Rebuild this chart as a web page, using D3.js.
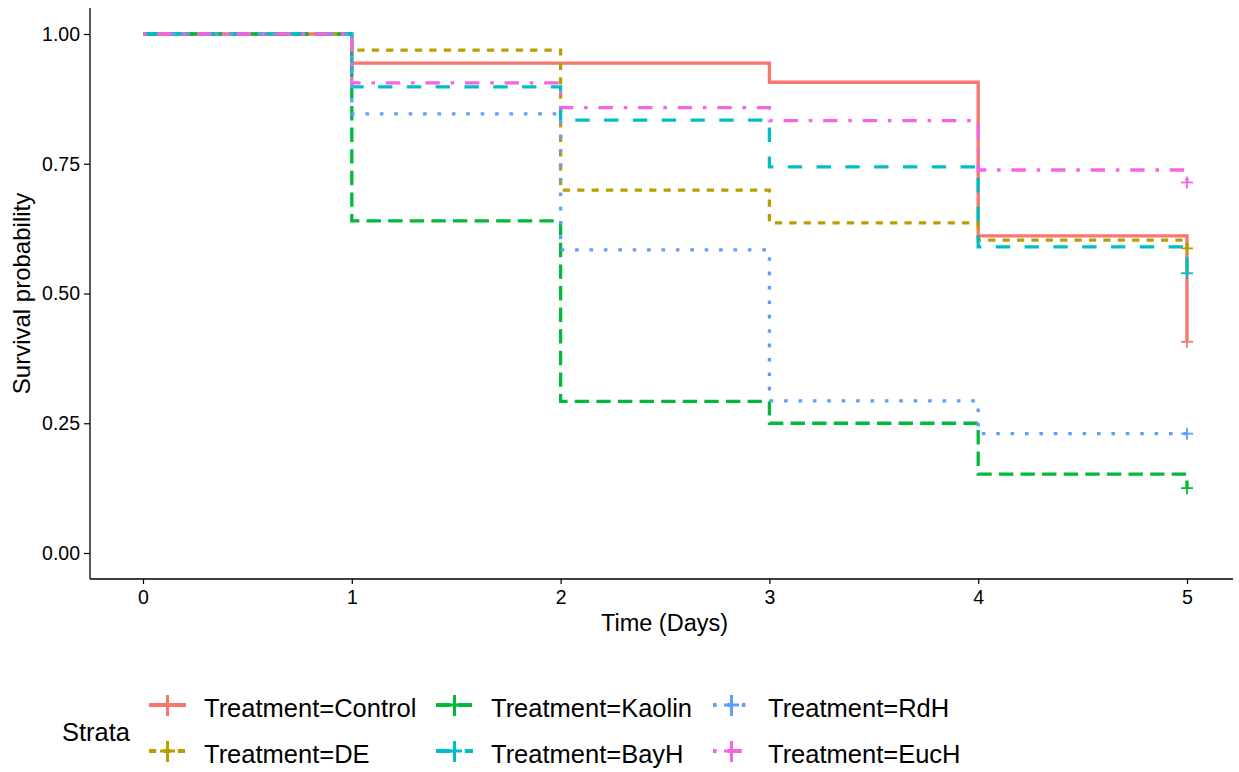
<!DOCTYPE html>
<html>
<head>
<meta charset="utf-8">
<script src="https://cdn.jsdelivr.net/npm/d3@7"></script>
<style>
  html, body { margin: 0; padding: 0; background: #fff; }
  svg { display: block; font-family: "Liberation Sans", Arial, Helvetica, sans-serif; }
</style>
</head>
<body>
<svg id="chart" width="1239" height="772"></svg>
<script>
// ---------------- data ----------------
const times = [0, 1, 2, 3, 4, 5];
const strata = ["Treatment=Control", "Treatment=DE", "Treatment=Kaolin",
                "Treatment=BayH", "Treatment=RdH", "Treatment=EucH"];
const survControl = [1, 0.944, 0.944, 0.907, 0.611, 0.407];
const survDE      = [1, 0.969, 0.699, 0.636, 0.603, 0.587];
const survKaolin  = [1, 0.640, 0.292, 0.250, 0.152, 0.125];
const survBayH    = [1, 0.898, 0.834, 0.744, 0.590, 0.539];
const survRdH     = [1, 0.846, 0.584, 0.293, 0.230, 0.230];
const survEucH    = [1, 0.906, 0.858, 0.833, 0.738, 0.714];
const survAll = [survControl, survDE, survKaolin, survBayH, survRdH, survEucH];
const colors = ["#F8766D", "#B79F00", "#00BA38", "#00BFC4", "#619CFF", "#F564E3"];
const linetypes = ["solid", "22", "42", "44", "13", "1343"];
const xTicks = [0, 1, 2, 3, 4, 5];
const yTicks = [0, 0.25, 0.5, 0.75, 1];
const xTitle = "Time (Days)";
const yTitle = "Survival probability";
const legendTitle = "Strata";

// ---------------- layout ----------------
const svg = d3.select("#chart");
const panel = { left: 90, right: 1233, top: 8, bottom: 579 };
const x = d3.scaleLinear().domain([0, 5]).range([143, 1187]);
const y = d3.scaleLinear().domain([0, 1]).range([553, 34]);
const unit = 3.6;
const lw = 3.3;
function dash(lt, u) {
  if (lt === "solid") return null;
  return lt.split("").map(c => parseInt(c, 16) * u).join(",");
}

// ---------------- curves ----------------
const line = d3.line()
  .x(d => x(d[0]))
  .y(d => y(d[1]))
  .curve(d3.curveStepAfter);

const curves = svg.append("g");
survAll.forEach((s, i) => {
  const pts = times.map((t, j) => [t, s[j]]);
  curves.append("path")
    .attr("d", line(pts))
    .attr("fill", "none")
    .attr("stroke", colors[i])
    .attr("stroke-width", lw)
    .attr("stroke-linecap", "butt")
    .attr("stroke-dasharray", dash(linetypes[i], unit));
});
// censor marks at end
survAll.forEach((s, i) => {
  const cx = x(times[times.length - 1]), cy = y(s[s.length - 1]);
  const g = curves.append("g").attr("stroke", colors[i]).attr("stroke-width", 1.8);
  g.append("line").attr("x1", cx - 6).attr("x2", cx + 6).attr("y1", cy).attr("y2", cy);
  g.append("line").attr("x1", cx).attr("x2", cx).attr("y1", cy - 6).attr("y2", cy + 6);
});

// ---------------- axes ----------------
const axG = svg.append("g");
const xAxis = axG.append("g").attr("transform", `translate(0,${panel.bottom})`)
  .call(d3.axisBottom(x).tickValues(xTicks).tickFormat(d3.format("d")).tickSize(5).tickPadding(6));
const yAxis = axG.append("g").attr("transform", `translate(${panel.left},0)`)
  .call(d3.axisLeft(y).tickValues(yTicks).tickFormat(d3.format(".2f")).tickSize(6).tickPadding(4));
[xAxis, yAxis].forEach(a => {
  a.select(".domain").remove();
  a.selectAll(".tick line").attr("stroke", "#000").attr("stroke-width", 1.2);
  a.selectAll(".tick text").attr("fill", "#000").style("font-size", "19.5px")
    .style("font-family", "'Liberation Sans', Arial, sans-serif");
});
axG.append("line").attr("x1", panel.left).attr("x2", panel.right)
  .attr("y1", panel.bottom).attr("y2", panel.bottom).attr("stroke", "#000").attr("stroke-width", 1.3);
axG.append("line").attr("x1", panel.left).attr("x2", panel.left)
  .attr("y1", panel.top).attr("y2", panel.bottom).attr("stroke", "#000").attr("stroke-width", 1.3);

svg.append("text").attr("x", (panel.left + panel.right) / 2 + 3).attr("y", 631)
  .attr("text-anchor", "middle").style("font-size", "23.5px").attr("fill", "#000").text(xTitle);
svg.append("text").attr("transform", `translate(30,${(panel.top + panel.bottom) / 2}) rotate(-90)`)
  .attr("text-anchor", "middle").style("font-size", "24px").attr("fill", "#000").text(yTitle);

// ---------------- legend ----------------
const leg = svg.append("g");
leg.append("text").attr("x", 62).attr("y", 741).style("font-size", "25.5px").attr("fill", "#000").text(legendTitle);
const keyX = [149, 436, 713];
const rowY = [705, 751];
strata.forEach((name, i) => {
  const col = Math.floor(i / 2), row = i % 2;
  const kx = keyX[col], ky = rowY[row];
  const g = leg.append("g");
  g.append("line").attr("x1", kx).attr("x2", kx + 37).attr("y1", ky).attr("y2", ky)
    .attr("stroke", colors[i]).attr("stroke-width", 4)
    .attr("stroke-dasharray", dash(linetypes[i], 3.6));
  g.append("line").attr("x1", kx + 18.5).attr("x2", kx + 18.5).attr("y1", ky - 10).attr("y2", ky + 11)
    .attr("stroke", colors[i]).attr("stroke-width", 3);
  g.append("line").attr("x1", kx + 11).attr("x2", kx + 26).attr("y1", ky).attr("y2", ky)
    .attr("stroke", colors[i]).attr("stroke-width", 3);
  g.append("text").attr("x", kx + 55).attr("y", ky + 11.5)
    .style("font-size", "25.5px").attr("fill", "#000").text(name);
});
</script>
</body>
</html>
